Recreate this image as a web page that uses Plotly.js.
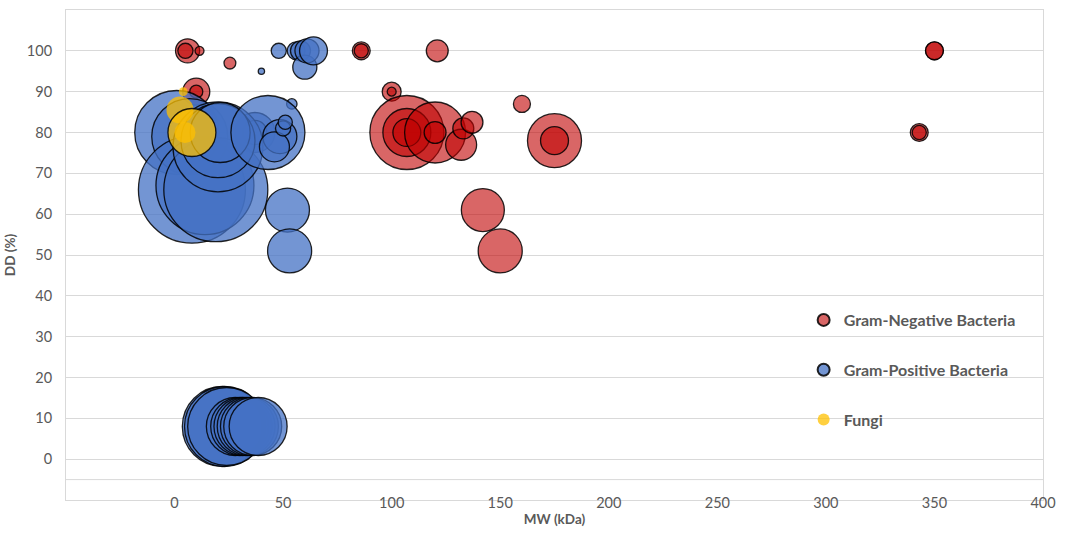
<!DOCTYPE html>
<html>
<head>
<meta charset="utf-8">
<script src="https://cdn.plot.ly/plotly-3.0.1.min.js"></script>
<style>
  html, body { margin: 0; padding: 0; background: #ffffff; }
  #chart { width: 1065px; height: 538px; }
</style>
</head>
<body>
<div id="chart"></div>
<script>
// Gram-negative bacteria: molecular weight (kDa), degree of deacetylation (%), bubble size
const gramNegMW   = [25.5, 6, 5, 11.5, 10, 10, 86, 86, 121, 100, 100, 107, 107, 107, 120, 120, 132, 133, 137, 142, 150, 160, 175, 175, 350, 350, 343, 343];
const gramNegDD   = [97, 100, 100, 100, 90, 90, 100, 100, 100, 90, 90, 80, 80, 80, 80, 80, 77, 81, 82.5, 61, 51, 87, 78, 78, 100, 100, 80, 80];
const gramNegSize = [1.4, 5.8, 2.3, 0.8, 7.3, 1.7, 3.2, 2.0, 4.8, 3.6, 0.8, 54.8, 23.0, 7.8, 37.2, 4.8, 9.6, 4.4, 4.8, 18.5, 19.4, 2.9, 29.2, 7.8, 3.2, 3.2, 3.2, 2.0];

// Gram-positive bacteria
const gramPosMW   = [54, 37, 37, 1, 7, 8, 14, 19, 20, 20, 21, 43, 48.5, 46, 50, 51, 52, 53, 48, 40, 56, 58, 60, 61, 64, 22, 23, 24, 28, 30, 31.5, 33, 34.5, 36, 38.5];
const gramPosDD   = [87, 80, 80, 80, 79, 66, 67, 66, 76.5, 78, 80, 80, 79, 76.5, 81, 82.5, 61, 51, 100, 95, 100, 100, 96, 100, 100, 8, 8, 8, 8, 8, 8, 8, 8, 8, 8];
const gramPosSize = [1.1, 16, 5.8, 70.6, 57.8, 114.5, 96, 108.2, 81, 54.8, 36, 54.8, 11.6, 9.0, 2.3, 2.0, 19.4, 19.4, 2.3, 0.4, 3.2, 4.0, 5.8, 5.8, 7.8, 64, 64, 60.8, 33.6, 33.6, 33.6, 33.6, 33.6, 33.6, 33.6];

// Fungi
const fungiMW   = [4, 2.5, 4.8, 8];
const fungiDD   = [90, 85.5, 80, 80];
const fungiSize = [0.8, 7.3, 4.4, 23.0];

// Axis ticks
const mwTicks = [0, 50, 100, 150, 200, 250, 300, 350, 400];
const ddTicks = [0, 10, 20, 30, 40, 50, 60, 70, 80, 90, 100];

const FONT = 'Lato, "Open Sans", sans-serif';
const TEXT = '#595959';
const GRID = '#d9d9d9';
const OUTLINE = 'rgba(0,0,0,0.85)';
const NO_OUTLINE = 'rgba(0,0,0,0)';

// shared area scaling so the largest bubble is ~107 px across
const maxSize = Math.max(...gramNegSize, ...gramPosSize, ...fungiSize);
const sizeref = 2 * maxSize / (107 * 107);

function bubbles(name, group, x, y, s, fill, lineColor, lineW) {
  return {
    type: 'scatter', mode: 'markers', name: name, legendgroup: group,
    x: x, y: y, hoverinfo: 'x+y',
    marker: {
      size: s, sizemode: 'area', sizeref: sizeref, color: fill, opacity: 1,
      line: { color: lineColor, width: lineW }
    }
  };
}

// only the largest fungal bubble carries an outline
const fungiLineColor = fungiSize.map(v => v === Math.max(...fungiSize) ? OUTLINE : NO_OUTLINE);

const data = [
  bubbles('Gram-Negative Bacteria', 'gn', gramNegMW, gramNegDD, gramNegSize, 'rgba(192,0,0,0.6)', OUTLINE, 1.3),
  bubbles('Gram-Positive Bacteria', 'gp', gramPosMW, gramPosDD, gramPosSize, 'rgba(68,114,196,0.75)', OUTLINE, 1.3),
  bubbles('Fungi', 'f', fungiMW, fungiDD, fungiSize, 'rgba(255,192,0,0.75)', fungiLineColor, 1.3)
];

const layout = {
  width: 1065, height: 538,
  margin: { l: 66, r: 22, t: 10, b: 38 },
  paper_bgcolor: '#ffffff', plot_bgcolor: '#ffffff',
  font: { family: FONT, color: TEXT, size: 14 },
  showlegend: true,
  legend: {
    x: 0.755, y: 0.402, xanchor: 'left', yanchor: 'top',
    bgcolor: 'rgba(0,0,0,0)', itemsizing: 'constant', itemwidth: 30,
    tracegroupgap: 26,
    font: { family: FONT, size: 16, color: TEXT, weight: 'bold' }
  },
  xaxis: {
    range: [-50, 400], tickvals: mwTicks, ticktext: mwTicks.map(String),
    showgrid: false, zeroline: false,
    showline: true, mirror: true, linecolor: GRID, linewidth: 1,
    ticks: '', ticklabelstandoff: -10,
    tickfont: { family: FONT, size: 14.5, color: TEXT },
    title: { text: 'MW (kDa)', standoff: 4, font: { family: FONT, size: 13.5, color: TEXT, weight: 'bold' } }
  },
  yaxis: {
    range: [-10, 110], tickvals: ddTicks, ticktext: ddTicks.map(String),
    showgrid: true, gridcolor: GRID, gridwidth: 1, zeroline: false,
    showline: true, mirror: true, linecolor: GRID, linewidth: 1,
    ticks: '', ticklabelstandoff: 10,
    tickfont: { family: FONT, size: 14.5, color: TEXT },
    title: { text: 'DD (%)', standoff: 8, font: { family: FONT, size: 13.5, color: TEXT, weight: 'bold' } }
  },
  shapes: [
    // horizontal axis line crossing at DD = -5
    { type: 'line', xref: 'paper', yref: 'y', x0: 0, x1: 1, y0: -5, y1: -5,
      line: { color: GRID, width: 1 }, layer: 'below' }
  ]
};

Plotly.newPlot('chart', data, layout, { displayModeBar: false, staticPlot: true });
</script>
</body>
</html>
